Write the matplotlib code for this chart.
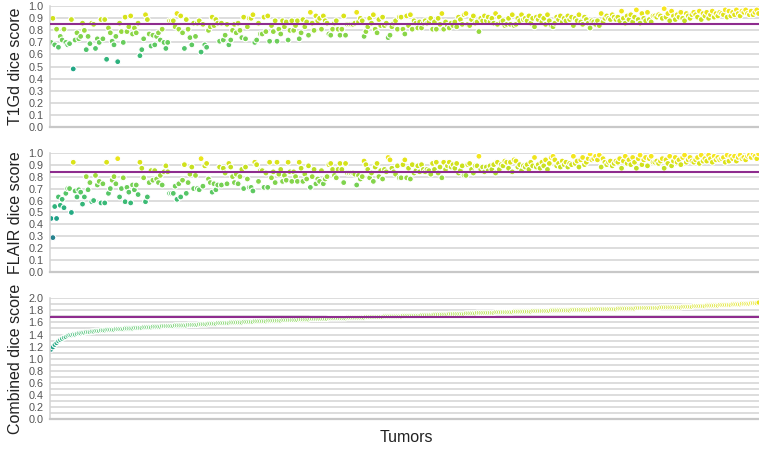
import numpy as np
import matplotlib
matplotlib.use('Agg')
from matplotlib import pyplot as plt, colors, ticker

# per-tumor dice scores
t1gd=[0.70,0.90,0.68,0.81,0.66,0.75,0.72,0.81,0.70,0.68,
      0.89,0.69,0.48,0.72,0.78,0.73,0.75,0.86,0.80,0.64,
      0.75,0.69,0.86,0.85,0.65,0.73,0.70,0.89,0.73,0.89,
      0.56,0.82,0.78,0.71,0.68,0.75,0.54,0.86,0.79,0.70,
      0.91,0.79,0.83,0.92,0.77,0.82,0.78,0.86,0.59,0.64,
      0.73,0.93,0.89,0.77,0.67,0.76,0.68,0.75,0.78,0.72,
      0.81,0.70,0.65,0.70,0.88,0.88,0.88,0.81,0.92,0.78,
      0.65,0.83,0.94,0.89,0.81,0.74,0.68,0.86,0.75,0.86,
      0.68,0.88,0.62,0.66,0.85,0.80,0.83,0.91,0.84,0.89,
      0.86,0.71,0.86,0.72,0.76,0.68,0.85,0.72,0.80,0.85,
      0.78,0.86,0.80,0.74,0.91,0.73,0.83,0.93,0.90,0.90,
      0.70,0.72,0.86,0.77,0.77,0.91,0.79,0.92,0.71,0.84,
      0.79,0.88,0.71,0.81,0.77,0.88,0.83,0.87,0.72,0.80,
      0.88,0.80,0.84,0.88,0.73,0.78,0.89,0.83,0.87,0.76,
      0.86,0.80,0.92,0.88,0.90,0.81,0.92,0.95,0.88,0.86,
      0.77,0.76,0.81,0.86,0.88,0.81,0.76,0.81,0.92,0.76,
      0.87,0.85,0.85,0.85,0.85,0.90,0.88,0.75,0.86,0.95,
      0.79,0.83,0.90,0.86,0.93,0.81,0.78,0.89,0.84,0.91,
      0.84,0.81,0.86,0.91,0.74,0.76,0.83,0.91,0.86,0.88,
      0.81,0.77,0.92,0.84,0.93,0.81,0.88,0.86,0.82,0.87,
      0.82,0.86,0.88,0.86,0.87,0.81,0.90,0.87,0.81,0.90,
      0.85,0.94,0.81,0.87,0.84,0.82,0.93,0.86,0.84,0.87,
      0.83,0.91,0.89,0.85,0.94,0.85,0.84,0.89,0.92,0.86,
      0.87,0.79,0.90,0.88,0.92,0.88,0.91,0.87,0.90,0.86,
      0.94,0.85,0.91,0.87,0.88,0.84,0.85,0.90,0.85,0.93,
      0.85,0.90,0.88,0.93,0.89,0.84,0.90,0.88,0.92,0.86,
      0.90,0.83,0.91,0.89,0.92,0.87,0.90,0.85,0.93,0.88,
      0.91,0.84,0.89,0.92,0.87,0.90,0.83,0.88,0.92,0.89,
      0.86,0.91,0.84,0.90,0.88,0.93,0.87,0.85,0.91,0.89,
      0.86,0.82,0.90,0.88,0.92,0.87,0.90,0.85,0.89,0.93,
      0.88,0.84,0.91,0.89,0.94,0.87,0.91,0.88,0.96,0.90,
      0.86,0.92,0.89,0.93,0.87,0.91,0.97,0.89,0.92,0.86,
      0.94,0.90,0.92,0.88,0.95,0.91,0.89,0.93,0.87,0.92,
      0.90,0.98,0.91,0.94,0.88,0.96,0.92,0.89,0.93,0.91,
      0.95,0.90,0.93,0.88,0.94,0.92,0.90,0.95,0.93,0.91,
      0.96,0.89,0.94,0.92,0.95,0.90,0.93,0.96,0.91,0.94,
      0.92,0.95,0.93,0.97,0.91,0.94,0.96,0.92,0.95,0.93,
      0.97,0.94,0.92,0.96,0.93,0.95,0.97,0.94,0.96,0.93,
      0.95,0.97,0.94]

flair=[0.45,0.29,0.55,0.45,0.63,0.56,0.61,0.54,0.66,0.70,
       0.50,0.70,0.92,0.68,0.63,0.69,0.67,0.57,0.63,0.80,
       0.69,0.75,0.59,0.60,0.81,0.73,0.76,0.58,0.74,0.58,
       0.92,0.66,0.70,0.77,0.80,0.74,0.95,0.63,0.70,0.79,
       0.59,0.71,0.67,0.58,0.73,0.69,0.73,0.65,0.92,0.87,
       0.79,0.59,0.63,0.75,0.85,0.77,0.85,0.78,0.75,0.81,
       0.73,0.84,0.89,0.84,0.66,0.66,0.66,0.74,0.63,0.77,
       0.90,0.72,0.61,0.66,0.75,0.82,0.88,0.70,0.81,0.70,
       0.89,0.69,0.95,0.91,0.72,0.78,0.75,0.67,0.74,0.69,
       0.73,0.88,0.73,0.87,0.83,0.91,0.74,0.88,0.80,0.75,
       0.82,0.74,0.80,0.86,0.70,0.88,0.78,0.68,0.71,0.71,
       0.92,0.90,0.76,0.85,0.85,0.71,0.83,0.71,0.92,0.79,
       0.84,0.75,0.92,0.82,0.86,0.76,0.81,0.77,0.92,0.84,
       0.76,0.84,0.80,0.76,0.92,0.87,0.76,0.82,0.78,0.89,
       0.80,0.86,0.74,0.78,0.76,0.85,0.74,0.71,0.78,0.80,
       0.90,0.91,0.86,0.81,0.79,0.86,0.91,0.86,0.75,0.91,
       0.81,0.83,0.83,0.83,0.83,0.78,0.80,0.93,0.82,0.73,
       0.90,0.86,0.79,0.83,0.76,0.88,0.91,0.80,0.85,0.78,
       0.86,0.89,0.84,0.79,0.96,0.94,0.87,0.79,0.84,0.82,
       0.90,0.94,0.79,0.87,0.78,0.90,0.83,0.85,0.89,0.84,
       0.90,0.86,0.84,0.86,0.85,0.91,0.82,0.86,0.92,0.83,
       0.88,0.79,0.92,0.86,0.89,0.92,0.81,0.88,0.90,0.87,
       0.91,0.83,0.85,0.89,0.81,0.90,0.91,0.86,0.83,0.89,
       0.89,0.97,0.86,0.88,0.84,0.88,0.85,0.89,0.86,0.90,
       0.83,0.92,0.86,0.90,0.89,0.93,0.92,0.87,0.92,0.84,
       0.93,0.88,0.90,0.85,0.89,0.94,0.88,0.90,0.86,0.92,
       0.89,0.96,0.88,0.90,0.87,0.92,0.89,0.94,0.86,0.91,
       0.89,0.96,0.91,0.88,0.93,0.90,0.97,0.92,0.88,0.91,
       0.94,0.90,0.97,0.91,0.93,0.88,0.94,0.96,0.90,0.92,
       0.95,0.99,0.92,0.94,0.90,0.95,0.92,0.97,0.93,0.89,
       0.94,0.98,0.91,0.93,0.88,0.95,0.92,0.95,0.87,0.93,
       0.97,0.91,0.94,0.90,0.96,0.92,0.87,0.95,0.92,0.98,
       0.90,0.94,0.92,0.96,0.89,0.93,0.95,0.91,0.97,0.93,
       0.95,0.87,0.94,0.91,0.97,0.89,0.93,0.96,0.92,0.94,
       0.90,0.96,0.93,0.98,0.92,0.94,0.96,0.92,0.94,0.96,
       0.91,0.98,0.93,0.95,0.93,0.98,0.95,0.92,0.97,0.94,
       0.96,0.94,0.96,0.92,0.98,0.95,0.93,0.97,0.95,0.97,
       0.93,0.96,0.98,0.95,0.98,0.96,0.94,0.97,0.96,0.99,
       0.97,0.95,0.99]

mean_lines=[0.853,0.838,1.69]
panel_labels=['T1Gd dice score','FLAIR dice score','Combined dice score']

t1gd=np.array(t1gd)
flair=np.array(flair)
combined=t1gd+flair
order=np.argsort(combined,kind='stable')
series=[t1gd[order],flair[order],combined[order]]
x=np.arange(len(combined))

plt.rcParams['font.family']=['Liberation Sans','DejaVu Sans']
fig=plt.figure(figsize=(7.59,4.5),dpi=100)

boxes=[[0.0665,0.7184,0.9335,0.2676],
       [0.0665,0.3949,0.9335,0.2658],
       [0.0665,0.0689,0.9335,0.2682]]
norms=[colors.Normalize(-0.26,0.99),colors.Normalize(-0.26,0.99),colors.Normalize(0.13,1.99)]
ymax=[1.0,1.0,2.0]
sizes=[18,18,15]
edges=[0.8,0.8,0.8]

for k in range(3):
    ax=fig.add_axes(boxes[k])
    ax.scatter(x,series[k],c=series[k],cmap='viridis',norm=norms[k],
               s=sizes[k],edgecolors='white',linewidths=edges[k],zorder=2)
    ax.axhline(mean_lines[k],color='#8e2c8e',lw=1.5,zorder=3)
    ax.set_xlim(-0.3,len(x)-0.8)
    ax.set_ylim(0,ymax[k])
    if k<2:
        ax.yaxis.set_major_locator(ticker.MultipleLocator(0.1))
    else:
        ax.yaxis.set_major_locator(ticker.MultipleLocator(0.2))
        ax.yaxis.set_minor_locator(ticker.MultipleLocator(0.1))
        ax.tick_params(axis='y',which='minor',length=0)
    ax.yaxis.set_major_formatter(ticker.FormatStrFormatter('%.1f'))
    ax.grid(axis='y',which='both',color='#d3d3d3',lw=1.1)
    ax.set_axisbelow(True)
    for side in ['top','right']:
        ax.spines[side].set_visible(False)
    ax.spines['left'].set_color('#d3d3d3')
    ax.spines['left'].set_linewidth(1.1)
    ax.spines['bottom'].set_color('#c8c8c8')
    ax.spines['bottom'].set_linewidth(1.6)
    ax.tick_params(axis='y',length=0,pad=5,labelsize=7.8,labelcolor='#555555')
    ax.tick_params(axis='x',bottom=False,labelbottom=False)
    ax.set_ylabel(panel_labels[k],fontsize=11.5,color='#222222')
    ax.yaxis.set_label_coords(-0.039,0.5)

fig.text(0.536,1-437/450,'Tumors',ha='center',va='center',fontsize=11.5,color='#222222')
fig.savefig('out.png',dpi=100)
